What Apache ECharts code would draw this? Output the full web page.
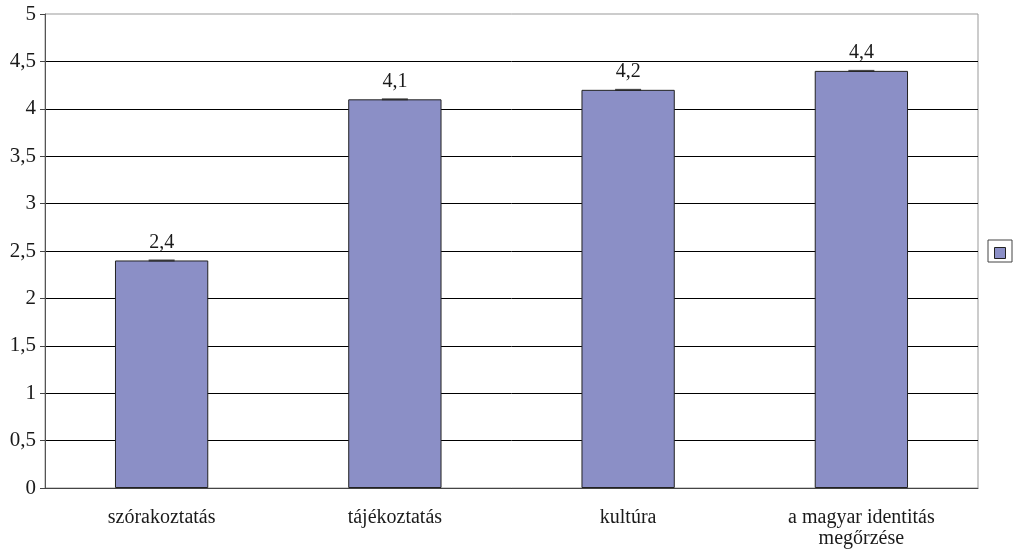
<!DOCTYPE html>
<html>
<head>
<meta charset="utf-8">
<script src="https://cdn.jsdelivr.net/npm/echarts@6/dist/echarts.min.js"></script>
<style>
  html, body { margin: 0; padding: 0; background: #fff; }
  #chart { width: 1018px; height: 549px; }
</style>
</head>
<body>
<div id="chart"></div>
<script>
var categories = ['szórakoztatás', 'tájékoztatás', 'kultúra', 'a magyar identitás\nmegőrzése']
var values = [2.4, 4.1, 4.2, 4.4]
var yTicks = { min: 0, max: 5, step: 0.5 }

var font = 'Liberation Serif'
var barColor = '#8b8fc6'
var chart = echarts.init(document.getElementById('chart'))
chart.setOption({
  animation: false,
  grid: {
    left: 45,
    right: 40,
    top: 14,
    bottom: 61,
    outerBoundsMode: 'none',
    show: true,
    borderColor: '#999',
    borderWidth: 1
  },
  // legend box without text on the right
  graphic: [
    {
      type: 'rect',
      shape: { x: 988, y: 240, width: 24, height: 22 },
      style: { fill: '#fff', stroke: '#444', lineWidth: 1 }
    },
    {
      type: 'rect',
      shape: { x: 994.5, y: 247.5, width: 11, height: 11 },
      style: { fill: barColor, stroke: '#222', lineWidth: 1 }
    }
  ],
  xAxis: {
    type: 'category',
    data: categories,
    axisLine: { lineStyle: { color: '#444' } },
    axisTick: { length: 6, lineStyle: { color: '#444' } },
    axisLabel: {
      margin: 19,
      color: '#1a1a1a',
      fontFamily: font,
      fontSize: 20,
      lineHeight: 21
    }
  },
  yAxis: {
    type: 'value',
    min: yTicks.min,
    max: yTicks.max,
    interval: yTicks.step,
    axisLine: { show: true, lineStyle: { color: '#555' } },
    axisTick: { show: true, length: 5, lineStyle: { color: '#444' } },
    splitLine: { showMaxLine: false, lineStyle: { color: '#000', width: 1 } },
    axisLabel: {
      margin: 9,
      color: '#1a1a1a',
      fontFamily: font,
      fontSize: 21,
      formatter: function (v) { return String(v).replace('.', ',') }
    }
  },
  series: [
    {
      name: 'érték',
      type: 'bar',
      data: values,
      barWidth: '40%',
      itemStyle: { color: barColor, borderColor: '#222', borderWidth: 1 },
      label: {
        show: true,
        position: 'top',
        distance: 8,
        color: '#1a1a1a',
        fontFamily: font,
        fontSize: 20,
        formatter: function (p) { return String(p.value).replace('.', ',') }
      }
    },
    {
      type: 'scatter',
      data: values,
      symbol: 'rect',
      symbolSize: [26, 2],
      itemStyle: { color: '#222' },
      silent: true,
      z: 3
    }
  ]
})
</script>
</body>
</html>
